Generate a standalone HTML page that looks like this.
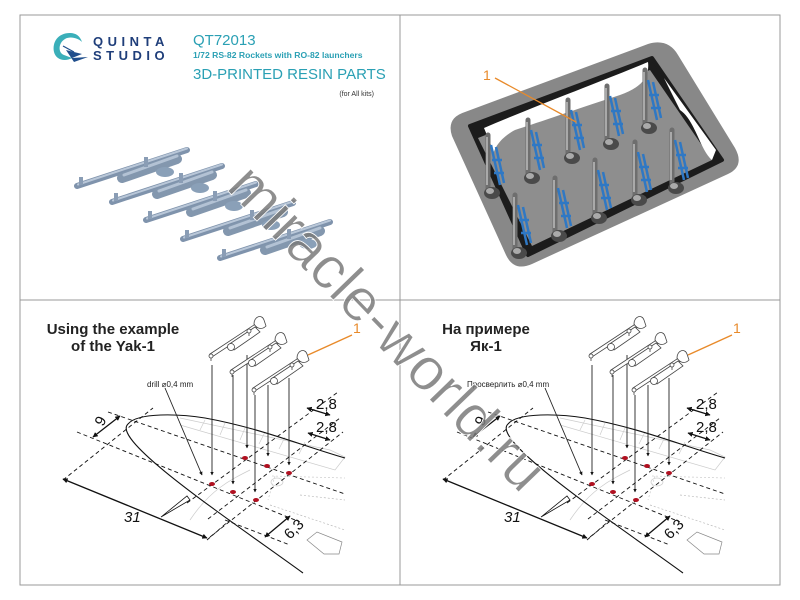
<!DOCTYPE html>
<html><head><meta charset="utf-8"><style>
html,body{margin:0;padding:0;background:#fff;}
svg{display:block;}
text{font-family:"Liberation Sans","DejaVu Sans",sans-serif;}
</style></head><body>
<svg width="800" height="600" viewBox="0 0 800 600" xmlns="http://www.w3.org/2000/svg">
<defs>
<marker id="ah" viewBox="0 0 10 10" refX="9" refY="5" markerWidth="4" markerHeight="4" orient="auto-start-reverse"><path d="M0,0L10,5L0,10z" fill="#111"/></marker>
<g id="rocketTop">
  <line x1="0" y1="0" x2="110" y2="-36" stroke="#7f93ac" stroke-width="6" stroke-linecap="round"/>
  <line x1="1" y1="-1.5" x2="110" y2="-37.5" stroke="#b9c7d8" stroke-width="2" stroke-linecap="round"/>
  <line x1="45" y1="-8" x2="100" y2="-27" stroke="#8397ae" stroke-width="10" stroke-linecap="round"/>
  <line x1="47" y1="-11" x2="100" y2="-30" stroke="#b3c2d4" stroke-width="3" stroke-linecap="round"/>
  <rect x="2" y="-9" width="4" height="8" fill="#8a9db5"/>
  <rect x="67" y="-29" width="4" height="10" fill="#8a9db5"/>
  <ellipse cx="88" cy="-14" rx="9" ry="5" fill="#8aa0b8"/>
</g>
<g id="rocketLine" fill="#fff" stroke="#444" stroke-width="0.8">
  <path d="M0,0 L50,-33 L52,-30 L2,3 z"/>
  <path d="M18,-9 L45,-27 L50,-22 L24,-4 z"/>
  <circle cx="21" cy="-7" r="3.5"/>
  <path d="M44,-30 C44,-38 52,-40 54,-34 L56,-28 C52,-24 47,-25 44,-30z"/>
  <path d="M1,1 v6 M39,-24 v6" />
  <circle cx="1" cy="2" r="2"/>
  <circle cx="39" cy="-23" r="2"/>
</g>
<g id="post">
  <line x1="0" y1="0" x2="0" y2="55" stroke="#6e6e6e" stroke-width="5" stroke-linecap="round"/>
  <line x1="-1" y1="2" x2="-1" y2="50" stroke="#bdbdbd" stroke-width="1.5"/>
  <path d="M3,10 L12,50 M8,12 L16,48 M4,25 L14,25 M6,38 L16,38" stroke="#2f78c4" stroke-width="2.5" fill="none"/>
  <ellipse cx="4" cy="58" rx="8" ry="6" fill="#4a4a4a"/>
  <ellipse cx="2" cy="56" rx="4" ry="3" fill="#aaa"/>
</g>
<g id="wing">
  <g stroke="#ccc" stroke-width="0.7" fill="none">
    <path d="M180,418 L330,450 L345,457 L335,470 L180,425"/>
    <path d="M205,420 l-5,10 M225,423 l-5,12 M245,428 l-5,12 M265,432 l-6,12 M285,437 l-6,12 M305,442 l-6,12"/>
    <path d="M250,470 C230,480 210,490 190,520"/>
    <path d="M272,476 L345,478 M275,476 L268,500" stroke-dasharray="2,2"/>
    <path d="M270,505 L345,530 M300,495 L345,500" stroke-dasharray="2,2" stroke="#bbb"/>
    <ellipse cx="277" cy="482" rx="6" ry="4"/>
    <path d="M307,540 l10,-8 l25,10 l-3,12 l-15,0 z" stroke="#888"/>
  </g>
  <g stroke="#111" stroke-width="0.9" fill="none" stroke-dasharray="4,3">
    <line x1="77" y1="432" x2="300" y2="522"/>
    <line x1="108" y1="412" x2="345" y2="494"/>
    <line x1="225" y1="520" x2="290" y2="545"/>
    <line x1="63" y1="480" x2="153" y2="408"/>
    <line x1="207" y1="540" x2="230" y2="520"/>
    <line x1="187" y1="503" x2="338" y2="392"/>
    <line x1="208" y1="519" x2="340" y2="418"/>
    <line x1="210" y1="537" x2="343" y2="432"/>
  </g>
  <g stroke="#111" stroke-width="1.3" marker-start="url(#ah)" marker-end="url(#ah)">
    <line x1="93" y1="437" x2="120" y2="416"/>
    <line x1="63" y1="479" x2="207" y2="538"/>
    <line x1="265" y1="537" x2="290" y2="516"/>
    <line x1="307" y1="408" x2="330" y2="415"/>
    <line x1="308" y1="433" x2="330" y2="440"/>
  </g>
  <path d="M303,573 C230,520 110,440 128,424 C138,412 180,414 205,418 C260,428 300,445 345,458" fill="none" stroke="#111" stroke-width="1.1"/>
  <path d="M161,517 L187,496 L190,500 z" fill="#fff" stroke="#111" stroke-width="0.8"/>
  <g stroke="#222" stroke-width="0.9" marker-end="url(#ah)">
    <line x1="212" y1="365" x2="212" y2="475"/>
    <line x1="233" y1="375" x2="233" y2="484"/>
    <line x1="247" y1="355" x2="247" y2="448"/>
    <line x1="255" y1="395" x2="255" y2="492"/>
    <line x1="268" y1="385" x2="268" y2="456"/>
    <line x1="289" y1="378" x2="289" y2="465"/>
    <line x1="165" y1="388" x2="202" y2="475"/>
  </g>
  <g fill="#b01020">
    <ellipse cx="212" cy="484" rx="3" ry="2"/><ellipse cx="233" cy="492" rx="3" ry="2"/><ellipse cx="256" cy="500" rx="3" ry="2"/>
    <ellipse cx="245" cy="458" rx="3" ry="2"/><ellipse cx="267" cy="466" rx="3" ry="2"/><ellipse cx="289" cy="473" rx="3" ry="2"/>
  </g>
  <use href="#rocketLine" x="210" y="354"/>
  <use href="#rocketLine" x="231" y="370"/>
  <use href="#rocketLine" x="253" y="388"/>
  <line x1="308" y1="355" x2="352" y2="335" stroke="#e88a2a" stroke-width="1.4"/>
  <g font-size="15" fill="#111">
    <text x="316" y="409">2,8</text>
    <text x="316" y="432">2,8</text>
    <text x="124" y="522" font-style="italic">31</text>
    <text transform="translate(103,427) rotate(-62)">9</text>
    <text transform="translate(290,540) rotate(-45)">6,3</text>
  </g>
  <text x="353" y="333" font-size="14" fill="#e88a2a">1</text>
</g>
</defs>

<rect x="20" y="15" width="760" height="570" fill="#fff" stroke="#999" stroke-width="1"/>
<line x1="400" y1="15" x2="400" y2="585" stroke="#999"/>
<line x1="20" y1="300" x2="780" y2="300" stroke="#999"/>

<path d="M70,33 C58,33 52,42 54,52 C56,60 65,62 72,58 L64,55 C58,53 58,43 65,39 C70,36 78,38 82,42 C80,36 76,33 70,33z" fill="#3aafb9"/>
<path d="M66,50 L82,54 L72,58 L88,57 L74,62 z" fill="#1f4e8c"/>
<line x1="63" y1="46" x2="74" y2="52" stroke="#1f4e8c" stroke-width="1.2"/>
<text x="93" y="46" font-size="13" font-weight="bold" fill="#1f3e7a" letter-spacing="4.5">QUINTA</text>
<text x="93" y="60" font-size="13" font-weight="bold" fill="#1f3e7a" letter-spacing="4.5">STUDIO</text>

<text x="193" y="45" font-size="15" fill="#2aa0b4">QT72013</text>
<text x="193" y="58" font-size="8.6" font-weight="bold" fill="#2aa0b4">1/72  RS-82 Rockets with RO-82 launchers</text>
<text x="193" y="79" font-size="15" fill="#2aa0b4">3D-PRINTED RESIN PARTS</text>
<text x="374" y="96" font-size="7" fill="#333" text-anchor="end">(for All kits)</text>

<use href="#rocketTop" x="77" y="186"/>
<use href="#rocketTop" x="112" y="202"/>
<use href="#rocketTop" x="146" y="220"/>
<use href="#rocketTop" x="183" y="239"/>
<use href="#rocketTop" x="220" y="258"/>

<!-- tray -->
<path d="M465,112 L648,44 Q668,38 678,55 L735,148 Q745,166 728,174 L532,264 Q514,272 506,255 L452,136 Q446,118 465,112z" fill="#888"/>
<path d="M470,126 L652,58 L722,160 L528,255 z" fill="#1c1c1c" stroke="#1c1c1c" stroke-width="4" stroke-linejoin="round"/>
<path d="M478,138 L650,70 L712,160 L532,246 z" fill="#8e8e8e"/>
<path d="M484,128 C530,108 610,78 648,62 C650,78 640,88 620,95 C580,108 540,122 515,130 C500,138 495,148 494,152 z" fill="#fff"/>
<path d="M664,78 L716,150 L712,160 C700,150 695,120 680,110 z" fill="#fff"/>
<use href="#post" x="488" y="135"/>
<use href="#post" x="528" y="120"/>
<use href="#post" x="568" y="100"/>
<use href="#post" x="607" y="86"/>
<use href="#post" x="645" y="70"/>
<use href="#post" x="515" y="195"/>
<use href="#post" x="555" y="178"/>
<use href="#post" x="595" y="160"/>
<use href="#post" x="635" y="142"/>
<use href="#post" x="672" y="130"/>
<line x1="495" y1="78" x2="576" y2="122" stroke="#e88a2a" stroke-width="1.3"/>
<text x="483" y="80" font-size="14" fill="#e88a2a">1</text>

<use href="#wing"/>
<use href="#wing" x="380"/>
<text x="113" y="334" font-size="15" font-weight="bold" fill="#222" text-anchor="middle">Using the example</text>
<text x="113" y="351" font-size="15" font-weight="bold" fill="#222" text-anchor="middle">of the Yak-1</text>
<text x="147" y="387" font-size="8" fill="#222">drill ⌀0,4 mm</text>
<text x="486" y="334" font-size="15" font-weight="bold" fill="#222" text-anchor="middle">На примере</text>
<text x="486" y="351" font-size="15" font-weight="bold" fill="#222" text-anchor="middle">Як-1</text>
<text x="467" y="387" font-size="8" fill="#222">Просверлить ⌀0,4 mm</text>

<text transform="translate(225,188) rotate(46)" font-size="60" fill="#7a7a7a" fill-opacity="0.85" stroke="#fff" stroke-width="0.8">miracle-world.ru</text>
</svg>
</body></html>
